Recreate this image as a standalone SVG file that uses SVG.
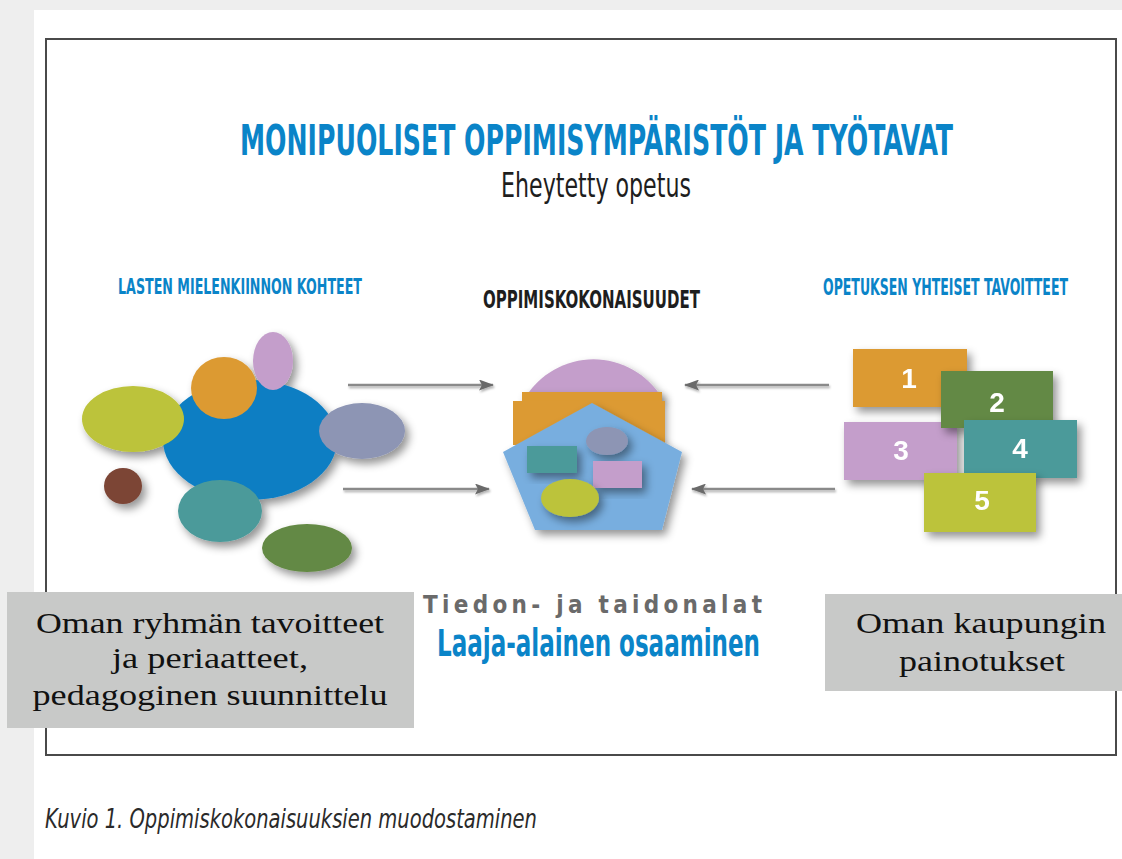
<svg xmlns="http://www.w3.org/2000/svg" width="1122" height="859" viewBox="0 0 1122 859">
  <defs>
    <filter id="sh" x="-30%" y="-30%" width="170%" height="170%">
      <feDropShadow dx="4" dy="5" stdDeviation="4" flood-color="#000" flood-opacity="0.42"/>
    </filter>
    <filter id="lsh" x="-10%" y="-200%" width="120%" height="500%">
      <feDropShadow dx="1" dy="2" stdDeviation="1.2" flood-color="#000" flood-opacity="0.3"/>
    </filter>
    <marker id="ah" markerUnits="userSpaceOnUse" markerWidth="15" markerHeight="11" refX="14" refY="5.5" orient="auto">
      <path d="M0,0 L15,5.5 L0,11 L3,5.5 Z" fill="#6a6a6a"/>
    </marker>
  </defs>
  <style>
    .cond { font-family: "Liberation Sans Narrow", "DejaVu Sans Condensed", "Liberation Sans", sans-serif; font-stretch: condensed; }
    .blue { fill: #0a84c8; font-weight: bold; }
    .dark { fill: #1e1e1e; }
    .serif { font-family: "Liberation Serif", "DejaVu Serif", serif; fill: #111; font-size: 29px; }
    .num { font-family: "Liberation Sans", "DejaVu Sans", sans-serif; font-weight: bold; fill: #ffffff; font-size: 28px; }
    .conn { stroke: #8a8a8a; stroke-width: 2.5; fill: none; }
    .gbox { fill: #c8c9c8; }
  </style>

  <!-- page -->
  <rect x="0" y="0" width="1122" height="859" fill="#eeeeee"/>
  <rect x="34" y="10" width="1088" height="849" fill="#ffffff"/>
  <rect id="frame" x="46" y="39" width="1070" height="716" fill="none" stroke="#4a4a4a" stroke-width="2"/>

  <!-- titles -->
  <g id="title">
    <text class="cond blue" x="240" y="155" font-size="42" textLength="713" lengthAdjust="spacingAndGlyphs">MONIPUOLISET OPPIMISYMPÄRISTÖT JA TYÖTAVAT</text>
    <text class="cond dark" x="501" y="197" font-size="34" textLength="190" lengthAdjust="spacingAndGlyphs">Eheytetty opetus</text>
  </g>

  <g id="label-left">
    <text class="cond blue" x="118" y="294" font-size="22" textLength="244" lengthAdjust="spacingAndGlyphs">LASTEN MIELENKIINNON KOHTEET</text>
  </g>
  <g id="label-center">
    <text class="cond dark" x="483" y="308" font-size="25" font-weight="bold" textLength="217" lengthAdjust="spacingAndGlyphs">OPPIMISKOKONAISUUDET</text>
  </g>
  <g id="label-right">
    <text class="cond blue" x="823" y="295" font-size="23" textLength="245" lengthAdjust="spacingAndGlyphs">OPETUKSEN YHTEISET TAVOITTEET</text>
  </g>

  <!-- left cluster -->
  <g id="interests" filter="url(#sh)">
    <ellipse cx="250" cy="440" rx="87" ry="60" fill="#0b7ec3"/>
    <ellipse cx="133" cy="419" rx="51" ry="33" fill="#bcc33a"/>
    <ellipse cx="224" cy="388" rx="33" ry="31" fill="#dc9a33"/>
    <ellipse cx="273" cy="361" rx="20" ry="29" fill="#c49ecb"/>
    <ellipse cx="362" cy="431" rx="43" ry="28" fill="#8d95b4"/>
    <ellipse cx="123" cy="486" rx="19" ry="18" fill="#7b4435"/>
    <ellipse cx="220" cy="511" rx="42" ry="31" fill="#4b9a9a"/>
    <ellipse cx="307" cy="548" rx="45" ry="24" fill="#648944"/>
  </g>

  <!-- center -->
  <g id="learning-wholes">
    <path d="M525,398 A80,80 0 0 1 662,398 Z" fill="#c49ecb" filter="url(#sh)"/>
    <rect x="522" y="392" width="140" height="52" fill="#dc9a33" filter="url(#sh)"/>
    <rect x="513" y="401" width="152" height="44" fill="#dc9a33"/>
    <polygon points="592,403 682,452 662,530 535,530 503,452" fill="#78aedf" filter="url(#sh)"/>
    <rect x="527" y="446" width="50" height="27" fill="#4b9a9a" filter="url(#sh)"/>
    <ellipse cx="607" cy="441" rx="21" ry="14" fill="#8d95b4" filter="url(#sh)"/>
    <rect x="593" y="461" width="49" height="27" fill="#c49ecb" filter="url(#sh)"/>
    <ellipse cx="570" cy="498" rx="29" ry="19" fill="#bcc33a" filter="url(#sh)"/>
  </g>

  <!-- right cluster -->
  <g id="goals">
    <g id="goal-1" filter="url(#sh)">
      <rect x="853" y="349" width="114" height="58" fill="#dc9a33"/>
      <text class="num" x="909" y="388" text-anchor="middle">1</text>
    </g>
    <g id="goal-3" filter="url(#sh)">
      <rect x="844" y="422" width="113" height="58" fill="#c49ecb"/>
      <text class="num" x="901" y="460" text-anchor="middle">3</text>
    </g>
    <g id="goal-2" filter="url(#sh)">
      <rect x="941" y="371" width="112" height="57" fill="#648944"/>
      <text class="num" x="997" y="412" text-anchor="middle">2</text>
    </g>
    <g id="goal-4" filter="url(#sh)">
      <rect x="964" y="420" width="113" height="58" fill="#4b9a9a"/>
      <text class="num" x="1020" y="458" text-anchor="middle">4</text>
    </g>
    <g id="goal-5" filter="url(#sh)">
      <rect x="924" y="473" width="112" height="59" fill="#bcc33a"/>
      <text class="num" x="982" y="510" text-anchor="middle">5</text>
    </g>
  </g>

  <!-- connectors -->
  <g id="connectors" filter="url(#lsh)">
    <line class="conn" x1="348" y1="385" x2="493" y2="385" marker-end="url(#ah)"/>
    <line class="conn" x1="343" y1="489" x2="489" y2="489" marker-end="url(#ah)"/>
    <line class="conn" x1="829" y1="385" x2="685" y2="385" marker-end="url(#ah)"/>
    <line class="conn" x1="835" y1="489" x2="692" y2="489" marker-end="url(#ah)"/>
  </g>

  <!-- bottom texts -->
  <g id="subjects">
    <text class="cond" x="423" y="613" font-size="24" font-weight="bold" fill="#6a6a6a" textLength="339" lengthAdjust="spacing">Tiedon- ja taidonalat</text>
  </g>
  <g id="competence">
    <text class="cond blue" x="437" y="656" font-size="37" textLength="323" lengthAdjust="spacingAndGlyphs">Laaja-alainen osaaminen</text>
  </g>

  <!-- gray boxes -->
  <g id="group-goals">
    <rect class="gbox" x="7" y="592" width="407" height="136"/>
    <text class="serif" x="210" y="633" text-anchor="middle" textLength="348" lengthAdjust="spacingAndGlyphs">Oman ryhmän tavoitteet</text>
    <text class="serif" x="210" y="668" text-anchor="middle" textLength="196" lengthAdjust="spacingAndGlyphs">ja periaatteet,</text>
    <text class="serif" x="210" y="705" text-anchor="middle" textLength="355" lengthAdjust="spacingAndGlyphs">pedagoginen suunnittelu</text>
  </g>
  <g id="city-emphasis">
    <rect class="gbox" x="825" y="594" width="297" height="97"/>
    <text class="serif" x="981" y="633" text-anchor="middle" textLength="250" lengthAdjust="spacingAndGlyphs">Oman kaupungin</text>
    <text class="serif" x="982" y="671" text-anchor="middle" textLength="166" lengthAdjust="spacingAndGlyphs">painotukset</text>
  </g>

  <!-- caption -->
  <g id="caption">
    <text class="cond" x="45" y="828" font-size="27" font-style="italic" fill="#2a2a2a" textLength="492" lengthAdjust="spacingAndGlyphs">Kuvio 1. Oppimiskokonaisuuksien muodostaminen</text>
  </g>
</svg>
